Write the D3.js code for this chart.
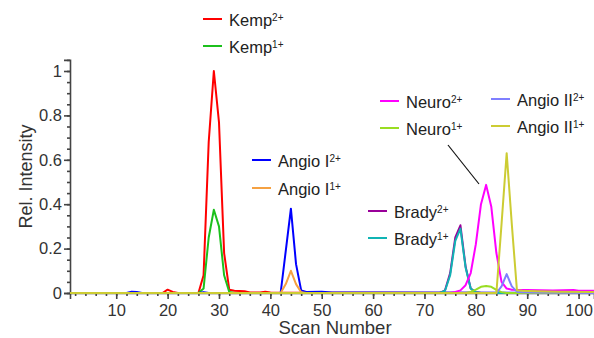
<!DOCTYPE html>
<html>
<head>
<meta charset="utf-8">
<script src="https://cdn.jsdelivr.net/npm/d3@7"></script>
<style>
  body { margin: 0; background: #fff; }
  svg { font-family: "Liberation Sans", Arial, sans-serif; }
</style>
</head>
<body>
<div id="chart"></div>
<script>
// [scan, rel. intensity] pairs
const kemp2 = [[1,0],[19,0],[20,0.015],[21,0.005],[22,0],[26,0],[27,0.08],[28,0.68],[29,1.0],[30,0.77],[31,0.18],[32,0.015],[33,0.01],[35,0.008],[36,0.002],[38,0.002],[39,0.006],[40,0.002],[103,0]]
const kemp1 = [[1,0],[26,0],[27,0.02],[28,0.25],[29,0.375],[30,0.3],[31,0.08],[32,0.005],[33,0],[103,0]]
const angioI2 = [[1,0],[12,0],[13,0.006],[14,0.005],[15,0],[26,0],[27,0.004],[28,0],[42,0],[43,0.19],[44,0.38],[45,0.13],[46,0.012],[47,0.005],[50,0.006],[52,0.002],[60,0.002],[103,0]]
const angioI1 = [[1,0],[42,0],[43,0.04],[44,0.1],[45,0.04],[46,0.003],[47,0],[103,0]]
const brady2 = [[1,0],[73,0],[74,0.012],[75,0.09],[76,0.25],[77,0.305],[78,0.12],[79,0.02],[80,0.003],[81,0],[103,0]]
const brady1 = [[1,0],[73,0],[74,0.01],[75,0.08],[76,0.235],[77,0.29],[78,0.115],[79,0.02],[80,0.003],[81,0],[103,0]]
const neuro2 = [[1,0],[75,0],[76,0.005],[77,0.012],[78,0.035],[79,0.09],[80,0.22],[81,0.4],[82,0.487],[83,0.39],[84,0.18],[85,0.05],[86,0.02],[87,0.015],[90,0.013],[95,0.011],[99,0.013],[100,0.01],[103,0.01]]
const neuro1 = [[1,0],[78,0],[79,0.005],[80,0.015],[81,0.028],[82,0.032],[83,0.028],[84,0.014],[85,0.004],[86,0],[103,0]]
const angioII2 = [[1,0],[84,0],[85,0.03],[86,0.085],[87,0.03],[88,0.006],[89,0.003],[92,0.002],[103,0]]
const angioII1 = [[1,0],[84,0],[85,0.31],[86,0.63],[87,0.31],[88,0.012],[89,0.01],[92,0.008],[96,0.006],[103,0.005]]

const seriesNames = ["Kemp2+","Kemp1+","Angio I2+","Angio I1+","Brady2+","Brady1+","Neuro2+","Neuro1+","Angio II2+","Angio II1+"]
const seriesData = [kemp2, kemp1, angioI2, angioI1, brady2, brady1, neuro2, neuro1, angioII2, angioII1]
const seriesColors = ["#ff0000","#1cc01c","#0000ff","#f5a142","#990099","#10b4b4","#ff00ff","#99dd22","#7f7fff","#cccc33"]

const xTicks = [10,20,30,40,50,60,70,80,90,100]
const yTicks = [0,0.2,0.4,0.6,0.8,1]

const width = 594, height = 338
const svg = d3.select("#chart").append("svg")
    .attr("width", width).attr("height", height)

const x = d3.scaleLinear().domain([1, 103]).range([70, 594])
const y = d3.scaleLinear().domain([0, 1.05]).range([293, 59.9])

const axisColor = "#444"

// y axis, major + minor
const yAxis = svg.append("g").attr("transform", "translate(70,0)")
yAxis.call(d3.axisLeft(y).tickValues(d3.range(0, 1.051, 0.05)).tickSize(3).tickFormat(""))
yAxis.call(g => g.select(".domain").remove())
const yMajor = svg.append("g").attr("transform", "translate(70,0)")
    .call(d3.axisLeft(y).tickValues(yTicks).tickSize(6).tickPadding(2).tickFormat(d3.format("~g")))
yMajor.selectAll("text").attr("font-size", 16.5).attr("fill", "#333").attr("font-family", "Liberation Sans, Arial, sans-serif")

// x axis, major + minor
const xAxis = svg.append("g").attr("transform", "translate(0,293)")
xAxis.call(d3.axisBottom(x).tickValues(d3.range(2, 103, 2)).tickSize(3).tickFormat(""))
xAxis.call(g => g.select(".domain").remove())
const xMajor = svg.append("g").attr("transform", "translate(0,293)")
    .call(d3.axisBottom(x).tickValues(xTicks).tickSize(6).tickPadding(5))
xMajor.selectAll("text").attr("font-size", 16.5).attr("fill", "#333").attr("font-family", "Liberation Sans, Arial, sans-serif")

svg.selectAll(".domain, .tick line").attr("stroke", axisColor).attr("stroke-width", 1.6)

// axis titles
svg.append("text")
    .attr("x", 335).attr("y", 334)
    .attr("text-anchor", "middle")
    .attr("font-size", 18.5).attr("fill", "#333")
    .text("Scan Number")
svg.append("text")
    .attr("transform", "translate(32,176.5) rotate(-90)")
    .attr("text-anchor", "middle")
    .attr("font-size", 18).attr("fill", "#333")
    .text("Rel. Intensity")

// lines
const line = d3.line()
    .x(d => x(d[0]))
    .y(d => y(d[1]))

const plot = svg.append("g")
plot.selectAll("path.data")
    .data(seriesData)
    .enter().append("path")
    .attr("class", "data")
    .attr("d", line)
    .attr("fill", "none")
    .attr("stroke", (d, i) => seriesColors[i])
    .attr("stroke-width", 2)
    .attr("stroke-linejoin", "round")

// legend (position of each entry: [x of swatch, y])
const legendPos = [[203,19],[203,46],[252,160],[252,188],[368,211],[368,238],[380,101],[380,128],[491,99],[491,126]]
const legend = svg.append("g")
seriesNames.forEach((name, i) => {
  const [lx, ly] = legendPos[i]
  legend.append("line")
    .attr("x1", lx).attr("x2", lx + 19)
    .attr("y1", ly).attr("y2", ly)
    .attr("stroke", seriesColors[i]).attr("stroke-width", 2)
  const m = name.match(/^(.*?)(\d\+)$/)
  const t = legend.append("text")
    .attr("x", lx + 26).attr("y", ly + 6.5)
    .attr("font-size", 16.5).attr("fill", "#222")
  t.append("tspan").text(m[1])
  t.append("tspan").attr("font-size", 10).attr("dy", -5).text(m[2])
})

// pointer from Neuro legend to its peak
svg.append("line")
    .attr("x1", 448).attr("y1", 145)
    .attr("x2", 479).attr("y2", 184)
    .attr("stroke", "#111").attr("stroke-width", 1.2)
</script>
</body>
</html>
